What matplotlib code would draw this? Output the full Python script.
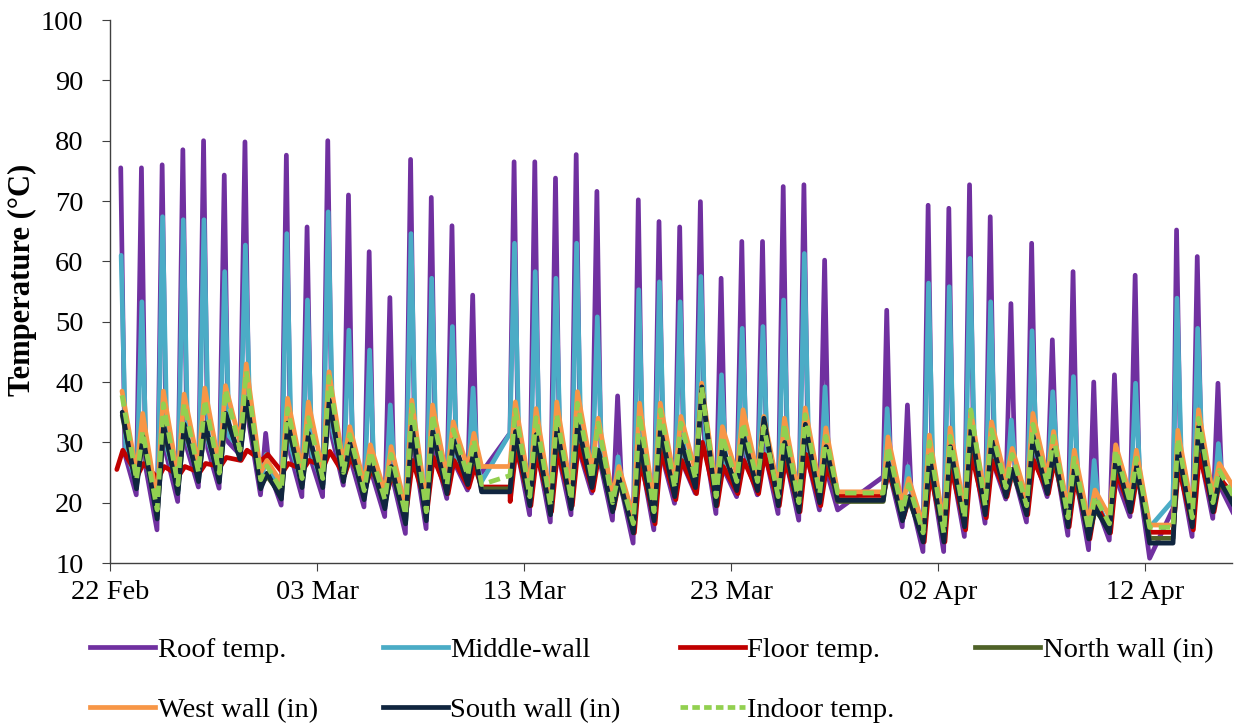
import numpy as np
import matplotlib
matplotlib.use("Agg")
import matplotlib.pyplot as plt
import matplotlib.dates as mdates
from matplotlib.lines import Line2D
from datetime import datetime, timedelta

nan = np.nan
plt.rcParams['font.family'] = ['Liberation Serif', 'DejaVu Serif']

# ---------------- data (day 0 = 22 Feb 2020), one value per day ----------------
start_date = datetime(2020, 2, 22)
tick_dates = ["2020-02-22", "2020-03-03", "2020-03-13", "2020-03-23", "2020-04-02", "2020-04-12"]

# Roof temperature: morning minimum, midday peak, early-evening value
roof_min = [nan, 21.3, 15.5, 20.2, 22.6, 22.4, 28.0, 21.3, 19.6, 21.0, 21.0, 22.9, 19.3, 17.7, 14.9, 15.7, 20.7, 22.1, nan, nan,
            18.0, 16.8, 18.0, 21.6, 17.1, 13.3, 15.5, 19.9, 21.6, 18.2, 21.0, 21.3, 18.2, 17.1, 18.8, nan, nan, nan, 16.0, 11.9,
            11.9, 14.4, 16.6, 20.6, 16.8, 21.0, 14.6, 12.2, 13.8, 17.7, nan, nan, 14.4, 17.4, 18.2]
roof_max = [75.5, 75.5, 76.0, 78.5, 80.0, 74.3, 79.8, 31.5, 77.6, 65.7, 80.0, 71.0, 61.6, 54.0, 76.9, 70.6, 65.9, 54.4, nan, 76.5,
            76.5, 73.8, 77.7, 71.6, 37.7, 70.2, 66.6, 65.7, 69.9, 57.2, 63.3, 63.3, 72.4, 72.7, 60.2, nan, nan, 51.9, 36.2, 69.3,
            68.8, 72.7, 67.4, 53.0, 63.0, 47.0, 58.3, 40.0, 41.2, 57.7, nan, 65.2, 60.8, 39.8, nan]
roof_eve = [28, 26, 28, 29, 29, 30, 33, 25, 28, 27, 31, 26, 24, 23, 28, 28, 26, 25, nan, 28,
            27, 27, 28, 26, 22, 26, 27, 26, 30, 25, 27, 27, 26, 27, 24, nan, nan, 24, 20, 24,
            25, 28, 26, 24, 27, 26, 23, 19, 23, 23, nan, 25, 27, 22, nan]

# Middle-wall
mid_min = [nan, 23.0, 18.0, 22.0, 24.0, 24.0, 29.0, 23.0, 21.5, 23.0, 23.0, 24.5, 21.0, 19.5, 17.0, 17.5, 22.5, 23.5, nan, nan,
           20.0, 19.0, 20.0, 23.0, 19.0, 15.5, 17.5, 21.5, 23.0, 20.0, 22.5, 23.0, 20.0, 19.0, 20.5, nan, nan, nan, 18.0, 14.0,
           14.0, 16.5, 18.5, 22.0, 18.5, 22.5, 16.5, 14.5, 15.5, 19.5, nan, nan, 16.5, 19.0, 19.5]
mid_max = [61.0, 53.3, 67.4, 66.9, 66.9, 58.3, 62.7, 28.0, 64.6, 53.6, 68.2, 48.6, 45.3, 36.2, 64.6, 57.2, 49.2, 39.0, nan, 63.0,
           58.3, 57.2, 63.0, 50.8, 27.6, 55.3, 56.6, 53.3, 57.5, 41.2, 48.9, 49.2, 53.6, 61.3, 39.2, nan, nan, 35.6, 26.0, 56.4,
           55.8, 60.5, 53.3, 33.7, 48.5, 38.4, 40.9, 27.0, 28.2, 39.8, nan, 53.9, 48.9, 29.8, nan]
mid_eve = [29, 27, 29, 30, 30, 31, 34, 25.5, 29, 28, 32, 27, 25, 24, 29, 29, 27, 26, nan, 29,
           28, 28, 29, 27, 22.5, 27, 28, 27, 31, 26, 28, 28, 27, 28, 25, nan, nan, 25, 20.5, 25,
           26, 29, 27, 25, 28, 27, 24, 19.5, 24, 24, nan, 26, 28, 23, nan]

# Floor temperature
floor_min = [25.5, 24.5, 24.0, 24.5, 25.0, 26.0, 27.0, 27.0, 25.0, 25.5, 26.0, 24.5, 22.5, 21.0, 19.0, 19.0, 21.5, 22.5, nan, 20.2,
             19.5, 18.5, 19.5, 22.0, 19.0, 15.0, 16.5, 20.5, 21.5, 19.5, 21.5, 21.5, 19.5, 18.5, 19.5, nan, nan, nan, 17.5, 13.5,
             13.5, 15.5, 17.5, 21.0, 18.0, 21.5, 16.0, 14.0, 15.0, 18.5, nan, nan, 15.5, 18.5, 21.0]
floor_max = [28.7, 26.5, 26.0, 26.0, 26.5, 27.5, 28.7, 28.0, 26.5, 27.0, 28.5, 27.5, 25.5, 24.5, 27.0, 27.5, 27.0, 26.0, nan, 29.0,
             28.0, 28.5, 29.5, 28.0, 24.0, 27.0, 28.5, 27.0, 30.0, 26.0, 27.0, 28.0, 27.0, 28.0, 26.0, nan, nan, 25.0, 21.0, 25.0,
             26.0, 28.0, 27.0, 25.5, 27.0, 27.0, 24.0, 20.0, 25.0, 24.5, nan, 26.0, 28.0, 24.0, nan]

# North wall (in)
north_min = [nan, 22.9, 17.9, 22.1, 24.1, 24.0, 27.8, 22.9, 21.2, 23.1, 23.1, 24.1, 21.1, 19.6, 17.1, 17.6, 22.1, 23.6, nan, nan,
             20.1, 18.6, 19.6, 23.1, 19.1, 15.6, 17.6, 21.6, 23.1, 20.1, 22.6, 22.6, 20.1, 19.1, 20.6, nan, nan, nan, 17.6, 14.1,
             14.1, 16.6, 18.6, 21.6, 18.6, 22.1, 16.6, 14.6, 15.6, 19.1, nan, nan, 16.6, 19.1, 20.1]
north_max = [34.5, 30.5, 32.4, 32.5, 32.7, 34.3, 36.8, 24.4, 32.7, 31.0, 36.5, 29.3, 26.6, 25.5, 32.1, 31.3, 29.9, 28.4, nan, 31.3,
             30.8, 31.8, 32.7, 28.2, 23.5, 29.6, 31.7, 29.6, 38.7, 28.8, 30.7, 33.5, 29.5, 32.5, 28.8, nan, nan, 26.1, 20.5, 27.1,
             28.8, 31.7, 29.9, 25.0, 30.5, 28.2, 25.4, 18.8, 27.1, 25.5, nan, 28.5, 32.1, 23.3, nan]

# West wall (in)
west_min = [nan, 25.0, 20.0, 24.2, 26.2, 26.1, 30.0, 25.0, 23.3, 25.2, 25.2, 26.2, 23.2, 21.7, 19.2, 19.7, 24.2, 25.7, nan, nan,
            22.2, 20.7, 21.7, 25.2, 21.2, 17.7, 19.7, 23.7, 25.2, 22.2, 24.7, 24.7, 22.2, 21.2, 22.7, nan, nan, nan, 19.7, 16.2,
            16.2, 18.7, 20.7, 23.7, 20.7, 24.2, 18.7, 16.7, 17.7, 21.2, nan, nan, 18.7, 21.2, 22.5]
west_max = [38.5, 34.8, 38.5, 38.0, 39.0, 39.4, 43.0, 27.0, 37.3, 36.7, 41.7, 32.6, 29.6, 29.3, 37.0, 36.2, 33.4, 31.5, nan, 36.7,
            35.6, 36.7, 38.4, 34.0, 26.0, 36.5, 36.5, 34.3, 39.8, 32.6, 35.4, 34.3, 34.0, 35.7, 32.4, nan, nan, 30.9, 24.0, 31.2,
            32.4, 35.1, 33.4, 29.0, 34.8, 31.8, 28.7, 22.1, 29.6, 28.7, nan, 32.0, 35.4, 26.5, nan]

# South wall (in)
south_min = [nan, 22.3, 17.3, 21.5, 23.5, 23.4, 27.2, 22.3, 20.6, 22.5, 22.5, 23.5, 20.5, 19.0, 16.5, 17.0, 21.5, 23.0, nan, nan,
             19.5, 18.0, 19.0, 22.5, 18.5, 15.0, 17.0, 21.0, 22.5, 19.5, 22.0, 22.0, 19.5, 18.5, 20.0, nan, nan, nan, 17.0, 13.5,
             13.5, 16.0, 18.0, 21.0, 18.0, 21.5, 16.0, 14.0, 15.0, 18.5, nan, nan, 16.0, 18.5, 19.5]
south_max = [35.0, 31.0, 32.9, 33.0, 33.2, 34.8, 37.3, 24.9, 33.2, 31.5, 37.0, 29.8, 27.1, 26.0, 32.6, 31.8, 30.4, 28.9, nan, 31.8,
             31.3, 32.3, 33.2, 28.7, 24.0, 30.1, 32.2, 30.1, 39.2, 29.3, 31.2, 34.0, 30.0, 33.0, 29.3, nan, nan, 26.6, 21.0, 27.6,
             29.3, 32.2, 30.4, 25.5, 31.0, 28.7, 25.9, 19.3, 27.6, 26.0, nan, 29.0, 32.6, 23.8, nan]

# Indoor temperature
indoor_min = [nan, 23.8, 18.8, 23.0, 25.0, 24.9, 28.7, 23.8, 22.1, 24.0, 24.0, 25.0, 22.0, 20.5, 18.0, 18.5, 23.0, 24.5, nan, nan,
              21.0, 19.5, 20.5, 24.0, 20.0, 16.5, 18.5, 22.5, 24.0, 21.0, 23.5, 23.5, 21.0, 20.0, 21.5, nan, nan, nan, 18.5, 15.0,
              15.0, 17.5, 19.5, 22.5, 19.5, 23.0, 17.5, 15.5, 16.5, 20.0, nan, nan, 17.5, 20.0, 21.0]
indoor_max = [37.8, 31.8, 36.4, 36.4, 37.0, 38.7, 41.8, 26.1, 35.6, 34.1, 40.9, 31.3, 28.5, 28.0, 36.2, 34.6, 32.1, 30.4, nan, 35.4,
              34.1, 34.6, 36.5, 33.2, 25.0, 34.6, 35.4, 33.2, 39.2, 31.0, 33.2, 32.6, 33.0, 34.6, 31.0, nan, nan, 29.3, 23.0, 30.1,
              31.0, 35.4, 32.1, 28.0, 33.0, 31.0, 27.4, 21.0, 28.7, 27.4, nan, 30.6, 34.0, 25.4, nan]

# Logger gaps (days since 22 Feb) and the values recorded on either side of each gap
gap_start_day = [17.95, 35.15, 50.22]
gap_end_day = [19.32, 37.35, 51.35]
roof_gap = ([25.0, 18.8, 10.8], [31.5, 24.3, 19.0])
mid_gap = ([23.5, 21.0, 15.9], [31.5, 21.5, 20.4])
floor_gap = ([22.6, 21.2, 15.1], [22.6, 21.2, 15.1])
north_gap = ([22.3, 20.2, 14.1], [22.3, 20.2, 14.1])
west_gap = ([26.0, 21.8, 16.3], [26.0, 21.8, 16.3])
south_gap = ([21.8, 20.4, 13.3], [21.8, 20.4, 13.3])
indoor_gap = ([23.0, 21.6, 15.9], [24.5, 21.6, 15.9])

labels = ["Roof temp.", "Middle-wall", "Floor temp.", "North wall (in)",
          "West wall (in)", "South wall (in)", "Indoor temp."]
colors = ["#7030A0", "#4BACC6", "#C00000", "#4F6228", "#F79646", "#10253F", "#92D050"]


# ---------------- build time series ----------------
def build(parts, gap):
    pts = []
    for vals, frac in parts:
        for d, v in enumerate(vals):
            if not np.isnan(v):
                pts.append((d + frac, v))
    # drop points that fall inside logger gaps
    pts = [p for p in pts if not any(s < p[0] < e for s, e in zip(gap_start_day, gap_end_day))]
    for s, v in zip(gap_start_day, gap[0]):
        pts.append((s, v))
    for e, v in zip(gap_end_day, gap[1]):
        pts.append((e, v))
    pts.sort()
    t = [start_date + timedelta(days=p[0]) for p in pts]
    y = [p[1] for p in pts]
    return t, y


series = [
    build([(roof_min, 0.27), (roof_max, 0.52), (roof_eve, 0.72)], roof_gap),
    build([(mid_min, 0.29), (mid_max, 0.54), (mid_eve, 0.76)], mid_gap),
    build([(floor_min, 0.33), (floor_max, 0.62)], floor_gap),
    build([(north_min, 0.28), (north_max, 0.59)], north_gap),
    build([(west_min, 0.28), (west_max, 0.58)], west_gap),
    build([(south_min, 0.28), (south_max, 0.59)], south_gap),
    build([(indoor_min, 0.28), (indoor_max, 0.58)], indoor_gap),
]

# ---------------- plot ----------------
fig = plt.figure(figsize=(12.47, 7.25), dpi=100)
ax = fig.add_axes([0.0882, 0.2234, 0.8998, 0.749])

lw = 3.4
for i, ((t, y), c, lab) in enumerate(zip(series, colors, labels)):
    if lab == "Indoor temp.":
        ax.plot(t, y, color=c, lw=lw, dashes=(2.4, 1.3), zorder=3 + i)
    else:
        ax.plot(t, y, color=c, lw=lw, solid_joinstyle='round', solid_capstyle='round', zorder=3 + i)

ax.set_ylim(10, 100)
ax.set_yticks(np.arange(10, 101, 10))
ax.set_xlim(start_date, start_date + timedelta(days=54.2))
ax.set_xticks([datetime.strptime(s, "%Y-%m-%d") for s in tick_dates])
ax.xaxis.set_major_formatter(mdates.DateFormatter("%d %b"))

for s in ["top", "right"]:
    ax.spines[s].set_visible(False)
for s in ["left", "bottom"]:
    ax.spines[s].set_color("#404040")
    ax.spines[s].set_linewidth(1.0)
ax.tick_params(axis='both', labelsize=20.5, direction='out', length=6, color="#404040")
ax.tick_params(axis='y', pad=13)
ax.tick_params(axis='x', pad=6)
fig.text(0.0178, 0.614, "Temperature (°C)", rotation=90, ha='center', va='center',
         fontsize=22, fontweight='bold')

handles = []
for c, lab in zip(colors, labels):
    if lab == "Indoor temp.":
        handles.append(Line2D([0], [0], color=c, lw=lw, dashes=(1.6, 0.9)))
    else:
        handles.append(Line2D([0], [0], color=c, lw=lw))

col_x = [0.0722, 0.3071, 0.5453, 0.7819]
cols = [[0, 4], [1, 5], [2, 6], [3]]
for x0, idx in zip(col_x, cols):
    leg = fig.legend([handles[k] for k in idx], [labels[k] for k in idx],
                     loc='upper left', bbox_to_anchor=(x0, 0.121), frameon=False,
                     fontsize=20.5, handlelength=2.27, handletextpad=0.1,
                     labelspacing=1.2, borderpad=0, borderaxespad=0)

fig.savefig("out.png", dpi=100)
